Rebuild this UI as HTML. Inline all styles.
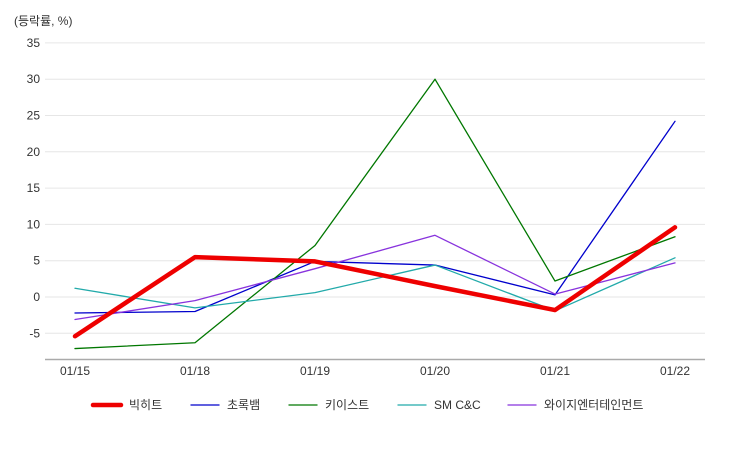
<!DOCTYPE html>
<html><head><meta charset="utf-8"><style>
body{margin:0;background:#fff;font-family:"Liberation Sans","Noto Sans CJK KR",sans-serif;}
svg text{font-family:"Liberation Sans","Noto Sans CJK KR",sans-serif;font-size:12px;fill:#333;}
</style></head><body>
<svg id="chart" width="750" height="450" xmlns="http://www.w3.org/2000/svg"></svg>
<script>
const categories=["01/15","01/18","01/19","01/20","01/21","01/22"];
const yTicks=[-5,0,5,10,15,20,25,30,35];
const seriesNames=["빅히트","초록뱀","키이스트","SM C&C","와이지엔터테인먼트"];
const seriesColors=["#ee0000","#0000cc","#007700","#22aaaa","#8833dd"];
const bigHit=[-5.4,5.5,4.9,1.5,-1.8,9.6];
const chorokbaem=[-2.2,-2.0,4.9,4.4,0.3,24.2];
const keyeast=[-7.1,-6.3,7.1,30,2.2,8.3];
const smcc=[1.2,-1.5,0.6,4.4,-1.9,5.4];
const yg=[-3.1,-0.5,3.9,8.5,0.4,4.7];
const seriesData=[bigHit,chorokbaem,keyeast,smcc,yg];
const NS="http://www.w3.org/2000/svg";
const svg=document.getElementById("chart");
function y(v){return 297-v*7.26;}
function x(i){return 75+i*120;}
function mk(t,a){const e=document.createElementNS(NS,t);for(const k in a)e.setAttribute(k,a[k]);svg.appendChild(e);return e;}
let t=mk("text",{x:14,y:25});t.textContent="(등락률, %)";


yTicks.forEach(v=>{
 const g=mk("line",{x1:45,x2:705,y1:y(v),y2:y(v),stroke:"#e6e6e6","stroke-width":1});
 
 
 const l=mk("text",{x:40,y:y(v)+4,"text-anchor":"end"});l.textContent=v;
 
 
});
const ax=mk("line",{x1:45,x2:705,y1:359.5,y2:359.5,stroke:"#aaa","stroke-width":1.5});


categories.forEach((c,i)=>{
 const l=mk("text",{x:x(i),y:375,"text-anchor":"middle"});l.textContent=c;
 
 
});
[1,2,3,4,0].forEach(s=>{
 const p=mk("polyline",{points:seriesData[s].map((v,i)=>x(i)+","+y(v)).join(" "),fill:"none",stroke:seriesColors[s],"stroke-width":s===0?4.5:1.3,"stroke-linejoin":"round","stroke-linecap":"round"});
 
 
});
const lx=[93,191,289,398,508];
seriesNames.forEach((n,s)=>{
 const l=mk("line",{x1:lx[s],x2:lx[s]+28,y1:405,y2:405,stroke:seriesColors[s],"stroke-width":s===0?4.5:1.3,"stroke-linecap":"round"});
 
 
 const tx=mk("text",{x:lx[s]+36,y:409});tx.textContent=n;
 
 
});
</script>
</body></html>
